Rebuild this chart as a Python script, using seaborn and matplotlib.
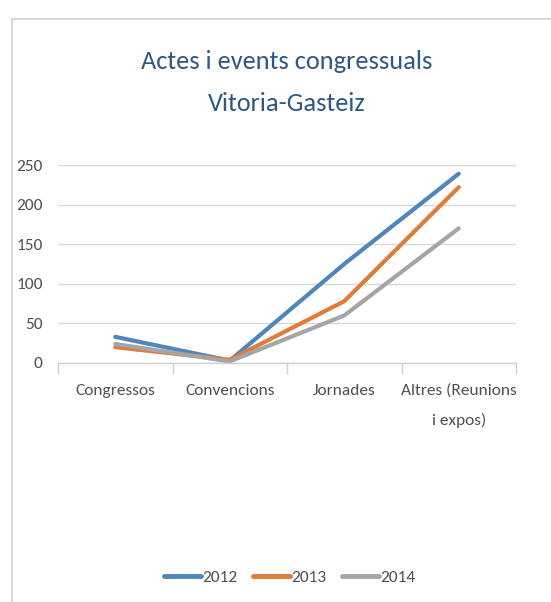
import matplotlib
matplotlib.use("Agg")
import matplotlib.pyplot as plt
from matplotlib.patches import Rectangle
import seaborn as sns
import pandas as pd

# Data
categories = ["Congressos", "Convencions", "Jornades", "Altres (Reunions\ni expos)"]
years = ["2012", "2013", "2014"]
values_2012 = [33, 3, 125, 239]
values_2013 = [20, 4, 78, 222]
values_2014 = [24, 2, 60, 170]
yticks = [0, 50, 100, 150, 200, 250]

colors = {"2012": "#4F86BF", "2013": "#E07B39", "2014": "#A5A5A5"}

rows = []
for year, vals in zip(years, [values_2012, values_2013, values_2014]):
    for cat, v in zip(categories, vals):
        rows.append({"categoria": cat, "any": year, "valor": v})
df = pd.DataFrame(rows)
df["categoria"] = pd.Categorical(df["categoria"], categories=categories, ordered=True)

sns.set_theme(style="white")
font = ["Carlito", "DejaVu Sans"]
plt.rcParams["font.family"] = font

fig = plt.figure(figsize=(5.51, 6.02), dpi=100)
fig.patch.set_facecolor("white")

# Chart frame
fig.add_artist(Rectangle((12 / 551, -0.05), 1.2, 1 - 19 / 602 + 0.05,
                         transform=fig.transFigure, fill=False,
                         edgecolor="#D9D9D9", linewidth=1.5))

ax = fig.add_axes([58 / 551, 1 - 363 / 602, (516 - 58) / 551, (363 - 165) / 602])

sns.lineplot(data=df, x="categoria", y="valor", hue="any", palette=colors,
             linewidth=3.0, sort=False, legend=False, ax=ax)

ax.set_xlim(-0.5, len(categories) - 0.5)
ax.set_ylim(0, 250)
ax.set_yticks(yticks)
ax.set_xlabel("")
ax.set_ylabel("")

for s in ["top", "right", "left"]:
    ax.spines[s].set_visible(False)
ax.spines["bottom"].set_color("#D0D0D0")
ax.spines["bottom"].set_linewidth(1.0)

ax.yaxis.grid(True, color="#D9D9D9", linewidth=1.0)
ax.xaxis.grid(False)
ax.set_axisbelow(True)

label_color = "#505050"
ax.tick_params(axis="y", length=0, pad=11, labelsize=12.5, labelcolor=label_color)
ax.tick_params(axis="x", which="major", length=0, pad=15, labelsize=12.5,
               labelcolor=label_color)
ax.set_xticks(range(len(categories)))
ax.set_xticklabels(categories, linespacing=2.2)
ax.set_xticks([i - 0.5 for i in range(len(categories) + 1)], minor=True)
ax.tick_params(axis="x", which="minor", length=8, width=1.0, color="#D0D0D0",
               direction="out", bottom=True)

# Title
fig.text(287 / 551, 1 - 82.5 / 602, "Actes i events congressuals\nVitoria-Gasteiz",
         ha="center", va="center", fontsize=19, color="#2F5782",
         linespacing=1.95, family=font)

# Legend
handles = [plt.Line2D([0], [0], color=colors[y], linewidth=3.5) for y in years]
fig.legend(handles, years, loc="center", bbox_to_anchor=(290 / 551, 1 - 577 / 602),
           ncol=3, frameon=False, fontsize=12.5, handlelength=2.1,
           handletextpad=0.1, columnspacing=0.9, labelcolor=label_color)

fig.savefig("out.png", dpi=100, facecolor="white")
